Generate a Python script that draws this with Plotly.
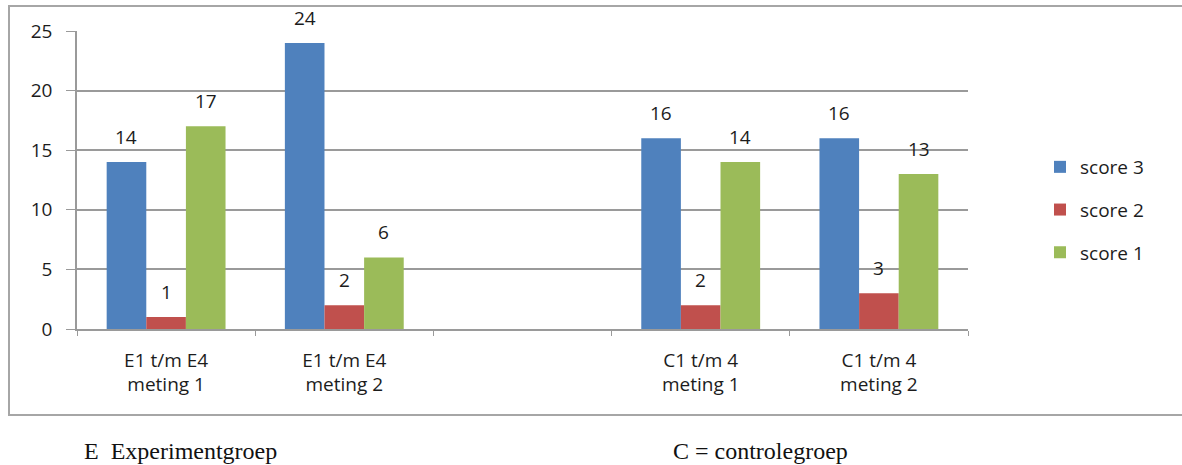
import plotly.graph_objects as go

# data
categories = ["E1 t/m E4<br>meting 1", "E1 t/m E4<br>meting 2", " ",
              "C1 t/m 4<br>meting 1", "C1 t/m 4<br>meting 2"]
score3 = [14, 24, None, 16, 16]
score2 = [1, 2, None, 2, 3]
score1 = [17, 6, None, 14, 13]

series = [("score 3", score3, "#4F81BD"),
          ("score 2", score2, "#C0504D"),
          ("score 1", score1, "#9BBB59")]

font_main = "Open Sans"
txt_col = "#1c1c1c"
grid_col = "#9a9a9a"
bargap = 0.333

fig = go.Figure()
for name, vals, col in series:
    fig.add_trace(go.Bar(x=categories, y=vals, name=name, marker_color=col,
                         marker_line_width=0, legendgroup=name))

# value labels above the bars
bw = (1 - bargap) / len(series)
for k, (name, vals, col) in enumerate(series):
    off = (k - 1) * bw
    for i, v in enumerate(vals):
        if v is None:
            continue
        fig.add_annotation(x=i + off, y=v, text=str(v), showarrow=False,
                           yanchor="bottom", yshift=10,
                           font=dict(family=font_main, size=19, color=txt_col))

# outer frame
L, R, T, B = 77, 214, 31, 136
W, H = 1182 - L - R, 465 - T - B
def px_x(p):
    return (p - L) / W
def px_y(p):
    return (465 - B - p) / H

fig.add_shape(type="rect", xref="paper", yref="paper",
              x0=px_x(9), x1=px_x(1195), y0=px_y(415), y1=px_y(6),
              line=dict(color="#a6a6a6", width=2), layer="below")

# notes under the chart
fig.add_annotation(xref="paper", yref="paper", x=px_x(82), y=px_y(451),
                   xanchor="left", yanchor="middle", showarrow=False,
                   text="E\u00a0\u00a0Experimentgroep",
                   font=dict(family="Liberation Serif", size=24, color="#111"))
fig.add_annotation(xref="paper", yref="paper", x=px_x(671), y=px_y(451),
                   xanchor="left", yanchor="middle", showarrow=False,
                   text="C = controlegroep",
                   font=dict(family="Liberation Serif", size=24, color="#111"))

fig.update_layout(
    width=1182, height=465,
    margin=dict(l=L, r=R, t=T, b=B),
    paper_bgcolor="white", plot_bgcolor="white",
    barmode="group", bargap=bargap, bargroupgap=0,
    font=dict(family=font_main, size=19, color=txt_col),
    legend=dict(x=px_x(1040), y=px_y(148), xanchor="left", yanchor="top",
                tracegroupgap=15, font=dict(size=19), itemwidth=30),
    showlegend=True,
)
fig.update_xaxes(type="category", categoryorder="array", categoryarray=categories,
                 showline=True, linecolor=grid_col, linewidth=1.5,
                 ticks="outside", tickson="boundaries", ticklen=5,
                 tickcolor=grid_col, ticklabelstandoff=13, showgrid=False)
fig.update_yaxes(range=[0, 25], dtick=5, showgrid=True, gridcolor=grid_col,
                 gridwidth=1.5, showline=True, linecolor=grid_col, linewidth=1.5,
                 ticks="outside", ticklen=9, tickcolor=grid_col,
                 ticklabelstandoff=10, zeroline=False)

# the page puts an 8px margin round the body; drop it so the chart sits at 0,0
fig.write_html("out.html", config={"displayModeBar": False},
               post_script="document.body.style.margin='0';")
